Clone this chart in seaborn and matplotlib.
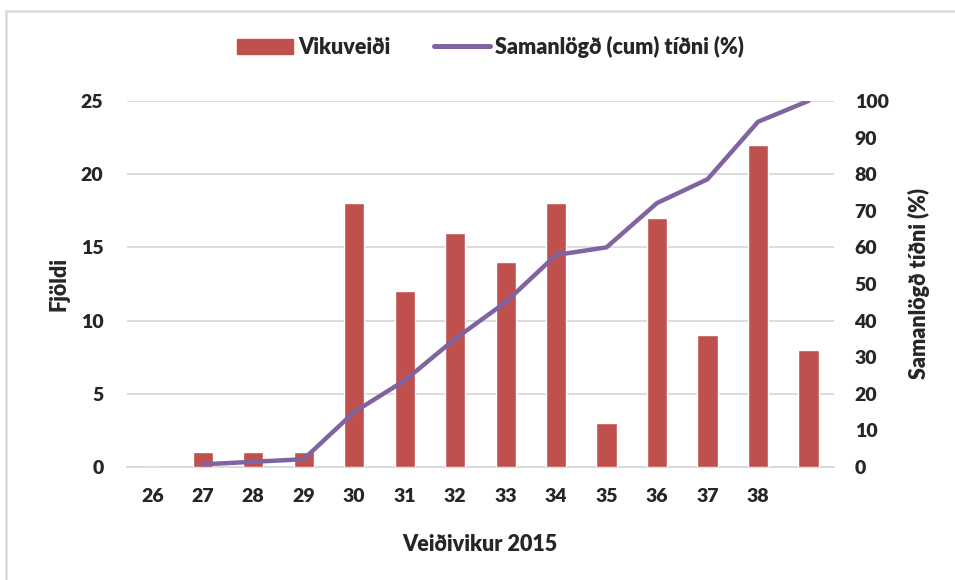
import numpy as np
import pandas as pd
import matplotlib
matplotlib.use("Agg")
import matplotlib.pyplot as plt
from matplotlib.patches import Rectangle, Patch
from matplotlib.lines import Line2D
import seaborn as sns

# Data
weeks = ["26", "27", "28", "29", "30", "31", "32", "33", "34", "35", "36", "37", "38", "39"]
week_labels = ["26", "27", "28", "29", "30", "31", "32", "33", "34", "35", "36", "37", "38", ""]
catch = [0, 1, 1, 1, 18, 12, 16, 14, 18, 3, 17, 9, 22, 8]
cum_pct = [np.nan, 0.7, 1.4, 2.1, 15.0, 23.6, 35.0, 45.0, 57.9, 60.0, 72.1, 78.6, 94.3, 100.0]

bar_color = "#C0504D"
line_color = "#8064A2"
grid_color = "#D9D9D9"
W = 800  # heavy weight, close to Calibri bold

sns.set_theme(style="white")
plt.rcParams['font.family'] = ['Lato', 'DejaVu Sans']
plt.rcParams['font.weight'] = W

df = pd.DataFrame({"week": weeks, "catch": catch, "cum": cum_pct, "pos": np.arange(len(weeks))})

fig = plt.figure(figsize=(9.55, 5.8), dpi=100)
ax = fig.add_axes([0.133, 0.195, 0.74, 0.631])

sns.barplot(data=df, x="week", y="catch", order=weeks, color=bar_color,
            width=0.4, saturation=1, ax=ax, zorder=3)
ax.set_ylim(0, 25)
ax.set_yticks([0, 5, 10, 15, 20, 25])
ax.set_xlim(-0.5, len(weeks) - 0.5)
ax.yaxis.grid(True, color=grid_color, linewidth=1.3, zorder=0)
ax.set_axisbelow(True)
for s in ["top", "right", "left"]:
    ax.spines[s].set_visible(False)
ax.spines["bottom"].set_color(grid_color)
ax.spines["bottom"].set_linewidth(1.3)

# tick marks between categories
ax.set_xticks(np.arange(len(weeks)))
ax.set_xticklabels(week_labels, fontsize=14, fontweight=W)
ax.set_xticks(np.arange(-0.5, len(weeks)), minor=True)
ax.tick_params(axis="x", which="major", length=0, pad=15)
ax.tick_params(axis="x", which="minor", length=7, color=grid_color, width=1.3, direction="out")
ax.tick_params(axis="y", length=0, labelsize=14, pad=17)
for t in ax.get_yticklabels():
    t.set_fontweight(W)

ax.set_xlabel("Veiðivikur 2015", fontsize=15.5, fontweight=W, labelpad=21)
ax.set_ylabel("Fjöldi", fontsize=15.5, fontweight=W, labelpad=8)

ax2 = ax.twinx()
sns.lineplot(data=df, x="pos", y="cum", color=line_color, linewidth=3.2, ax=ax2,
             solid_capstyle="round")
ax2.set_ylim(0, 100)
ax2.set_yticks(np.arange(0, 101, 10))
ax2.set_xlim(-0.5, len(weeks) - 0.5)
for s in ["top", "right", "left", "bottom"]:
    ax2.spines[s].set_visible(False)
ax2.tick_params(axis="y", length=0, labelsize=14, pad=15)
for t in ax2.get_yticklabels():
    t.set_fontweight(W)
ax2.set_ylabel("Samanlögð tíðni (%)", fontsize=15.5, fontweight=W, labelpad=14)
ax2.set_xlabel("")

handles = [Patch(facecolor=bar_color, edgecolor=bar_color),
           Line2D([0], [0], color=line_color, linewidth=3.6)]
fig.legend(handles, ["Vikuveiði", "Samanlögð (cum) tíðni (%)"], loc="center",
           bbox_to_anchor=(0.514, 0.919), ncol=2, frameon=False,
           prop={"size": 15.5, "weight": W},
           handlelength=2.6, columnspacing=2.0, handletextpad=0.25)

# outer chart border
fig.patches.append(Rectangle((6 / 955, -0.1), 1.2, 1.1 - 11 / 580, transform=fig.transFigure,
                             fill=False, edgecolor=grid_color, linewidth=1.8))

fig.savefig("out.png", dpi=100)
